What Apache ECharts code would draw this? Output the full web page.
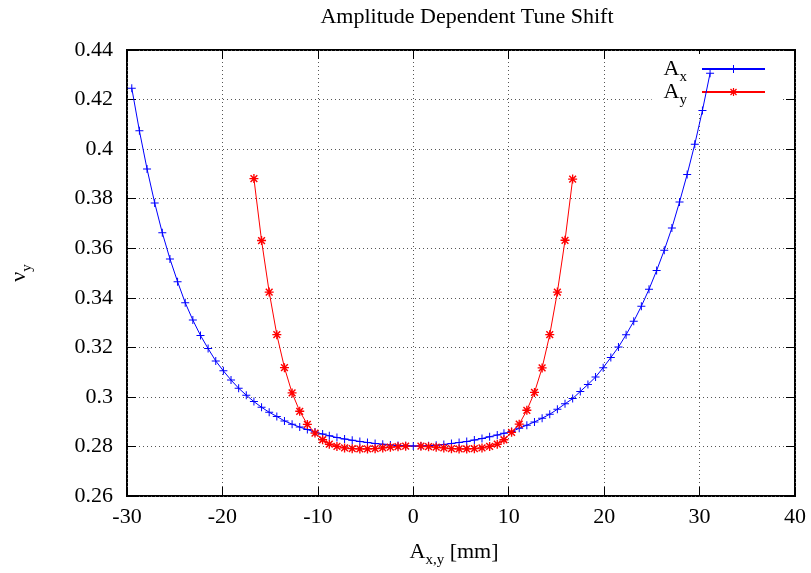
<!DOCTYPE html>
<html>
<head>
<meta charset="utf-8">
<script src="https://cdn.jsdelivr.net/npm/echarts@6/dist/echarts.min.js"></script>
<style>
html,body{margin:0;padding:0;background:#fff;}
#chart{width:811px;height:573px;}
</style>
</head>
<body>
<div id="chart"></div>
<script>
// ---- data ----
const ampX = [-29.5,-28.7,-27.9,-27.1,-26.3,-25.5,-24.7,-23.9,-23.1,-22.3,-21.5,-20.7,-19.9,-19.1,-18.3,-17.5,
  -16.7,-15.9,-15.1,-14.3,-13.5,-12.7,-11.9,-11.1,-10.3,-9.5,-8.8,-8.0,-7.2,-6.4,-5.6,-4.8,-4.0,-3.2,-2.4,-1.6,-0.8,
  0,0.8,1.6,2.4,3.2,4.0,4.8,5.6,6.4,7.2,8.0,8.8,9.5,10.3,11.1,11.9,12.7,13.5,14.3,15.1,15.9,16.7,
  17.5,18.3,19.1,19.9,20.7,21.5,22.3,23.1,23.9,24.7,25.5,26.3,27.1,27.9,28.7,29.5,30.3,31.1];
const tuneAx = [0.4246,0.4074,0.3920,0.3783,0.3662,0.3557,0.3465,0.3380,0.3310,0.3248,0.3195,0.3145,0.3105,0.3068,0.3035,0.3007,
  0.2981,0.2958,0.2938,0.2921,0.2903,0.2890,0.2878,0.2868,0.2858,0.2850,0.2843,0.2836,0.2830,0.2825,0.2820,0.2816,0.2812,0.2809,0.2806,0.2804,0.2803,
  0.2802,0.2802,0.2803,0.2805,0.2808,0.2812,0.2816,0.2820,0.2826,0.2832,0.2839,0.2846,0.2853,0.2860,0.2873,0.2886,0.2899,0.2914,0.2930,0.2950,0.2972,0.2993,
  0.3022,0.3050,0.3080,0.3118,0.3159,0.3201,0.3251,0.3305,0.3366,0.3434,0.3510,0.3592,0.3682,0.3787,0.3898,0.4020,0.4156,0.4306];
const ampY = [-16.7,-15.9,-15.1,-14.3,-13.5,-12.7,-11.9,-11.1,-10.3,-9.5,-8.8,-8.0,-7.2,-6.4,-5.6,-4.8,-4.0,-3.2,-2.4,-1.6,-0.8,
  0.8,1.6,2.4,3.2,4.0,4.8,5.6,6.4,7.2,8.0,8.8,9.5,10.3,11.1,11.9,12.7,13.5,14.3,15.1,15.9,16.7];
const tuneAy = [0.3881,0.3631,0.3423,0.3251,0.3118,0.3016,0.2942,0.2889,0.2854,0.2827,0.2809,0.2800,0.2794,0.2791,0.2790,0.2790,0.2791,0.2794,0.2797,0.2799,0.2801,
  0.2801,0.2799,0.2797,0.2794,0.2791,0.2790,0.2790,0.2791,0.2794,0.2800,0.2809,0.2827,0.2857,0.2890,0.2946,0.3018,0.3117,0.3251,0.3423,0.3632,0.3879];
const seriesNames = ['Ax', 'Ay'];
const xTicks = [-30, -20, -10, 0, 10, 20, 30, 40];
const yTicks = ['0.26','0.28','0.3','0.32','0.34','0.36','0.38','0.4','0.42','0.44'];

// ---- chart ----
const FONT = 'Liberation Serif';
const FS = 22;
const plusPath = 'path://M0,3.5L8,3.5L8,4.5L0,4.5Z M3.5,0L4.5,0L4.5,8L3.5,8Z';
const starPath = 'path://M0,3.4L8,3.4L8,4.6L0,4.6Z M3.4,0L4.6,0L4.6,8L3.4,8Z ' +
  'M0.55,1.45L1.45,0.55L7.45,6.55L6.55,7.45Z M6.55,0.55L7.45,1.45L1.45,7.45L0.55,6.55Z';

const blueData = ampX.map((x, i) => [x, tuneAx[i]]);
const redData = ampY.map((x, i) => [x, tuneAy[i]]);

const dotted = { color: '#555', width: 1, type: [1, 3] };
const tickStyle = { show: true, inside: true, length: 9, lineStyle: { color: '#000', width: 1 } };
const noLine = { show: false, onZero: false };

const subRich = {
  a: { fontFamily: FONT, fontSize: FS, color: '#000', lineHeight: 22, verticalAlign: 'top' },
  s: { fontFamily: FONT, fontSize: 15, color: '#000', lineHeight: 15, verticalAlign: 'top', padding: [12, 0, 0, 0] },
  sl: { fontFamily: FONT, fontSize: 15, color: '#000', lineHeight: 15, verticalAlign: 'top', padding: [12, 10, 0, 0] }
};

const chart = echarts.init(document.getElementById('chart'), null, { renderer: 'canvas' });
chart.setOption({
  animation: false,
  backgroundColor: '#fff',
  title: {
    text: 'Amplitude Dependent Tune Shift',
    left: 462, top: 1, textAlign: 'center',
    textStyle: { fontFamily: FONT, fontSize: FS, fontWeight: 'normal', color: '#000' }
  },
  grid: { left: 126, right: 16, top: 50, bottom: 76, show: true, borderColor: '#000', borderWidth: 2, backgroundColor: 'transparent' },
  legend: {
    data: seriesNames,
    orient: 'vertical',
    align: 'right',
    right: 31, top: 54,
    padding: [4, 14, 4, 12],
    itemGap: -4,
    itemWidth: 63, itemHeight: 10,
    backgroundColor: '#fff',
    z: 4,
    formatter: n => n === 'Ax' ? '{a|A}{sl|x}' : '{a|A}{sl|y}',
    textStyle: { rich: subRich }
  },
  xAxis: [{
    type: 'value', min: xTicks[0], max: xTicks[xTicks.length - 1], interval: 10, position: 'bottom',
    axisLine: noLine,
    axisTick: tickStyle,
    axisLabel: { fontFamily: FONT, fontSize: FS, color: '#000', margin: 10, formatter: v => String(v) },
    splitLine: { show: true, lineStyle: dotted },
    name: '{a|A}{s|x,y}{a| [mm]}',
    nameLocation: 'middle', nameGap: 45,
    nameTextStyle: { rich: subRich, padding: [0, 14, 0, 0] }
  }, {
    type: 'value', min: xTicks[0], max: xTicks[xTicks.length - 1], interval: 10, position: 'top',
    axisLine: noLine, axisTick: tickStyle, axisLabel: { show: false }, splitLine: { show: false }
  }],
  yAxis: [{
    type: 'value', min: 0.26, max: 0.44, interval: 0.02, position: 'left',
    axisLine: noLine,
    axisTick: tickStyle,
    axisLabel: { fontFamily: FONT, fontSize: FS, color: '#000', margin: 14,
      formatter: v => { const s = yTicks.find(t => Math.abs(parseFloat(t) - v) < 1e-6); return s !== undefined ? s : ''; } },
    splitLine: { show: true, lineStyle: dotted },
    name: '{n|ν}{s|y}',
    nameLocation: 'middle', nameGap: 97, nameRotate: 90,
    nameTextStyle: { rich: { n: subRich.a, s: subRich.s } }
  }, {
    type: 'value', min: 0.26, max: 0.44, interval: 0.02, position: 'right',
    axisLine: noLine, axisTick: tickStyle, axisLabel: { show: false }, splitLine: { show: false }
  }],
  series: [{
    name: seriesNames[0], type: 'line', xAxisIndex: 0, yAxisIndex: 0, z: 5,
    data: blueData, symbol: plusPath, symbolSize: 8, showSymbol: true,
    lineStyle: { color: '#0000ff', width: 1 },
    itemStyle: { color: '#0000ff' }
  }, {
    name: seriesNames[1], type: 'line', xAxisIndex: 0, yAxisIndex: 0, z: 5,
    data: redData, symbol: starPath, symbolSize: 9, showSymbol: true,
    lineStyle: { color: '#ff0000', width: 1 },
    itemStyle: { color: '#ff0000' }
  }]
});
</script>
</body>
</html>
